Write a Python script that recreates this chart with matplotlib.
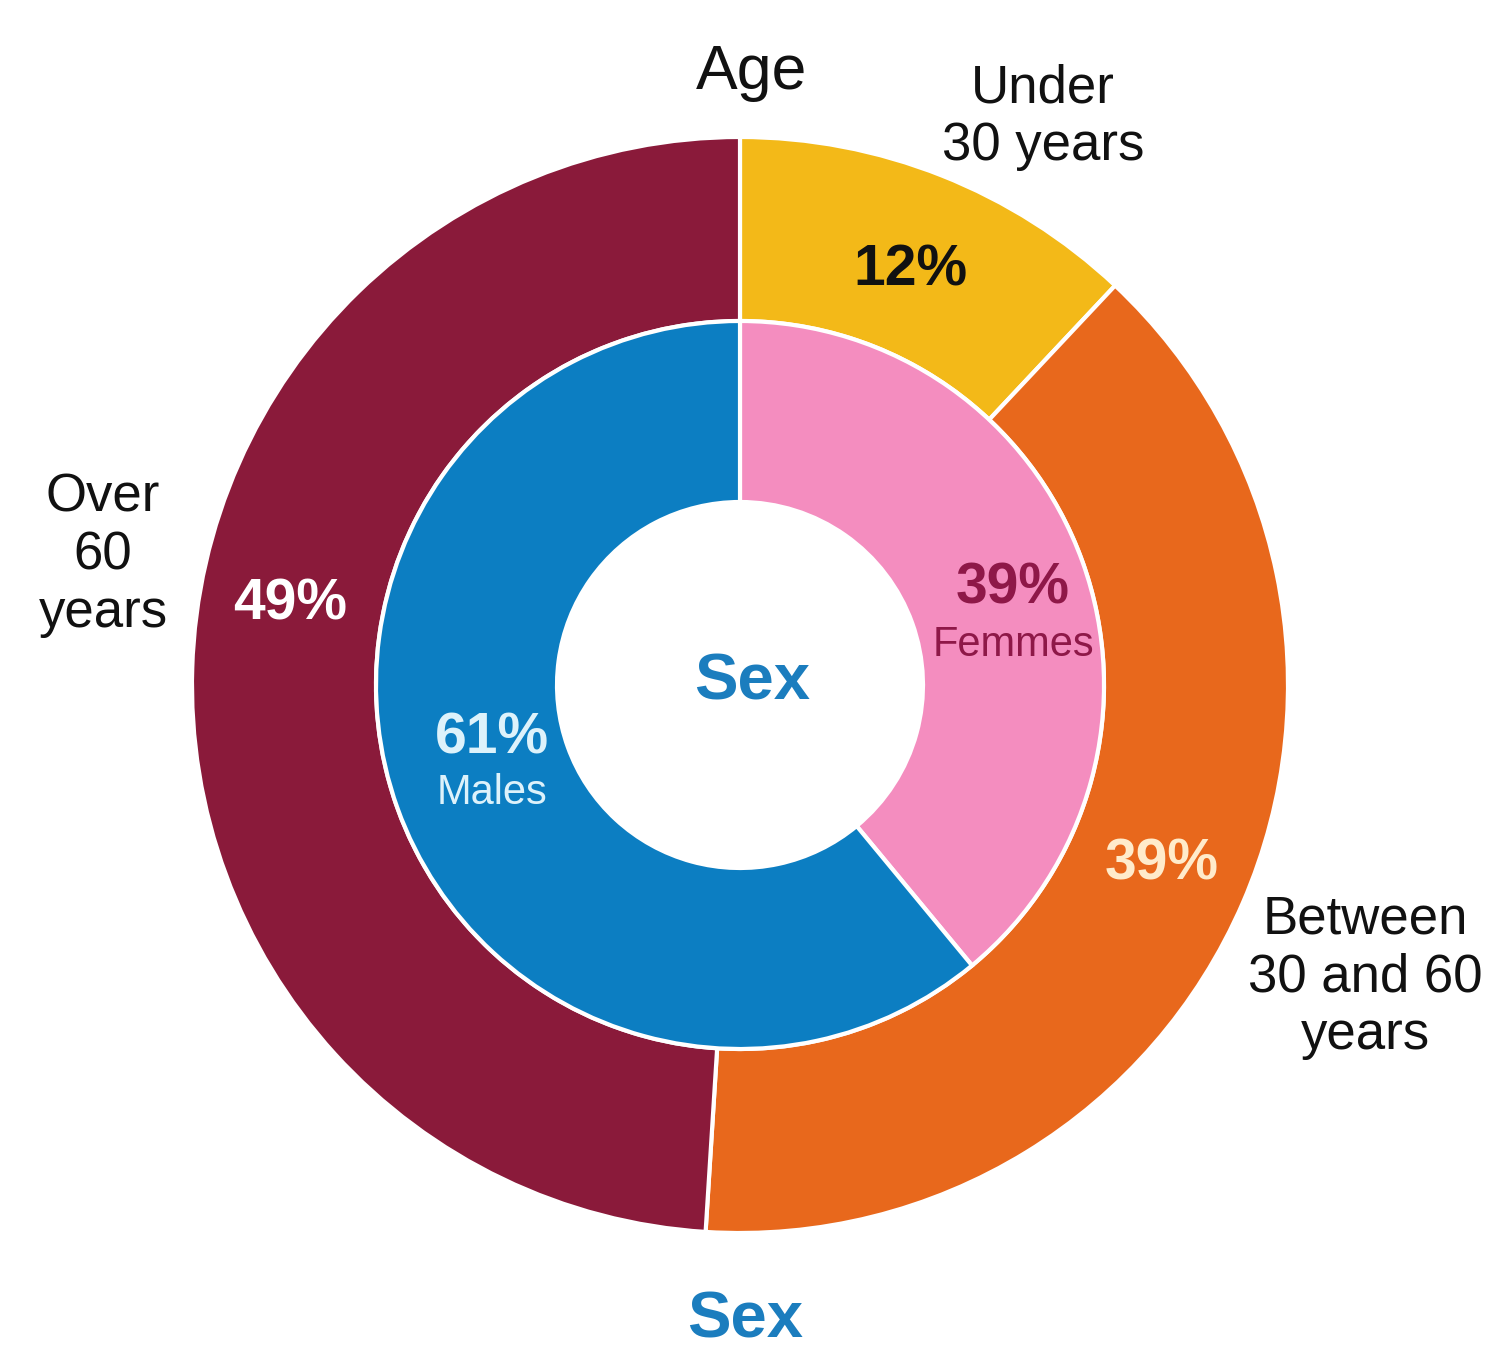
import matplotlib
matplotlib.use("Agg")
import matplotlib.pyplot as plt

plt.rcParams['font.family'] = ['Liberation Sans', 'DejaVu Sans']

# outer ring: age groups (clockwise from top)
age_labels = ['Under\n30 years', 'Between\n30 and 60\nyears', 'Over\n60\nyears']
age_values = [12, 39, 49]
age_colors = ['#F3B918', '#E8681C', '#8A1A3A']

# inner ring: sex
sex_labels = ['Femmes', 'Males']
sex_values = [39, 61]
sex_colors = ['#F48DBF', '#0C7EC2']

fig = plt.figure(figsize=(14.9, 13.58), dpi=100)
ax = fig.add_axes([0, 0, 1, 1])
ax.set_aspect('equal')
ax.axis('off')

R_out = 548
R_mid = 364
R_in = 183

ax.pie(age_values, radius=R_out, colors=age_colors, startangle=90, counterclock=False,
       wedgeprops=dict(width=R_out - R_mid, edgecolor='white', linewidth=3))
ax.pie(sex_values, radius=R_mid, colors=sex_colors, startangle=90, counterclock=False,
       wedgeprops=dict(width=R_mid - R_in, edgecolor='white', linewidth=3))
# 1 data unit = 1 pixel, chart centre at pixel (740, 685)
ax.set_xlim(-740, 750)
ax.set_ylim(-673, 685)

lab = dict(ha='center', va='center', fontsize=38, linespacing=1.2, color='#111111')
pct = dict(ha='center', va='center', fontsize=41, fontweight='bold')

# ring titles
ax.text(12, 613, 'Age', ha='center', va='center', fontsize=45, color='#111111')
ax.text(12, 3, 'Sex', ha='center', va='center', fontsize=47, fontweight='bold', color='#1B7DBE')
ax.text(5, -635, 'Sex', ha='center', va='center', fontsize=47, fontweight='bold', color='#1B7DBE')

# age category labels outside the ring
ax.text(303, 568, age_labels[0], **lab)
ax.text(625, -292, age_labels[1], **lab)
ax.text(-637, 130, age_labels[2], **lab)

# percentages on the outer ring
ax.text(170, 415, f'{age_values[0]}%', color='#111111', **pct)
ax.text(422, -180, f'{age_values[1]}%', color='#FFEBCB', **pct)
ax.text(-450, 80, f'{age_values[2]}%', color='white', **pct)

# inner ring labels
ax.text(273, 97, f'{sex_values[0]}%', color='#8E1848', **pct)
ax.text(273, 40, sex_labels[0], ha='center', va='center', fontsize=30, color='#8E1848')
ax.text(-248, -53, f'{sex_values[1]}%', color='#DDF2FB', **pct)
ax.text(-248, -108, sex_labels[1], ha='center', va='center', fontsize=30, color='#DDF2FB')

fig.savefig('out.png', dpi=100, facecolor='white')
